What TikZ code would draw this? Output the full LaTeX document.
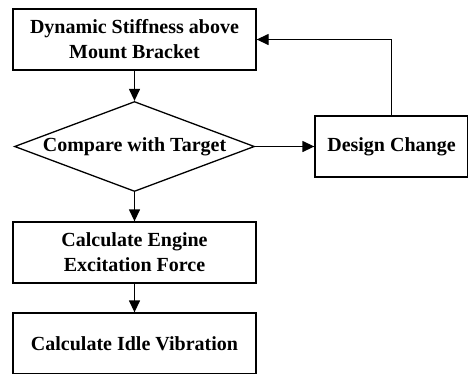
\documentclass[tikz,border=0pt]{standalone}
\usepackage{fontspec}
\setmainfont{Liberation Serif}
\usetikzlibrary{shapes.geometric,arrows.meta}
\begin{document}
\begin{tikzpicture}[x=1pt,y=-1pt,
  box/.style={draw,line width=1.3pt,minimum width=243pt,minimum height=61pt,inner sep=0pt,align=center,
    font=\fontsize{20}{25}\selectfont\bfseries},
  dia/.style={draw,diamond,line width=1.3pt,shape aspect=2.67,minimum width=240pt,minimum height=90pt,inner sep=0pt,
    font=\fontsize{20}{25}\selectfont\bfseries},
  arr/.style={line width=1.3pt,-{Triangle[length=12pt,width=11pt]}}]
\useasboundingbox (0,0) rectangle (468,373);
\clip (0,0) rectangle (468,373);
\fill[white] (0,0) rectangle (468,373);
\node[box] (b1) at (134.5,39.5) {Dynamic Stiffness above\\Mount Bracket};
\node[dia] (d) at (134.5,146.5) {Compare with Target};
\node[box,minimum width=153pt] (dc) at (391.5,146.5) {Design Change};
\node[box] (b3) at (134.5,252.5) {Calculate Engine\\Excitation Force};
\node[box] (b4) at (134.5,343.5) {Calculate Idle Vibration};
\draw[arr] (b1.south) -- (d.north);
\draw[arr] (d.south) -- (b3.north);
\draw[arr] (b3.south) -- (b4.north);
\draw[arr] (d.east) -- (dc.west);
\draw[arr] (dc.north) |- (b1.east);
\end{tikzpicture}
\end{document}
